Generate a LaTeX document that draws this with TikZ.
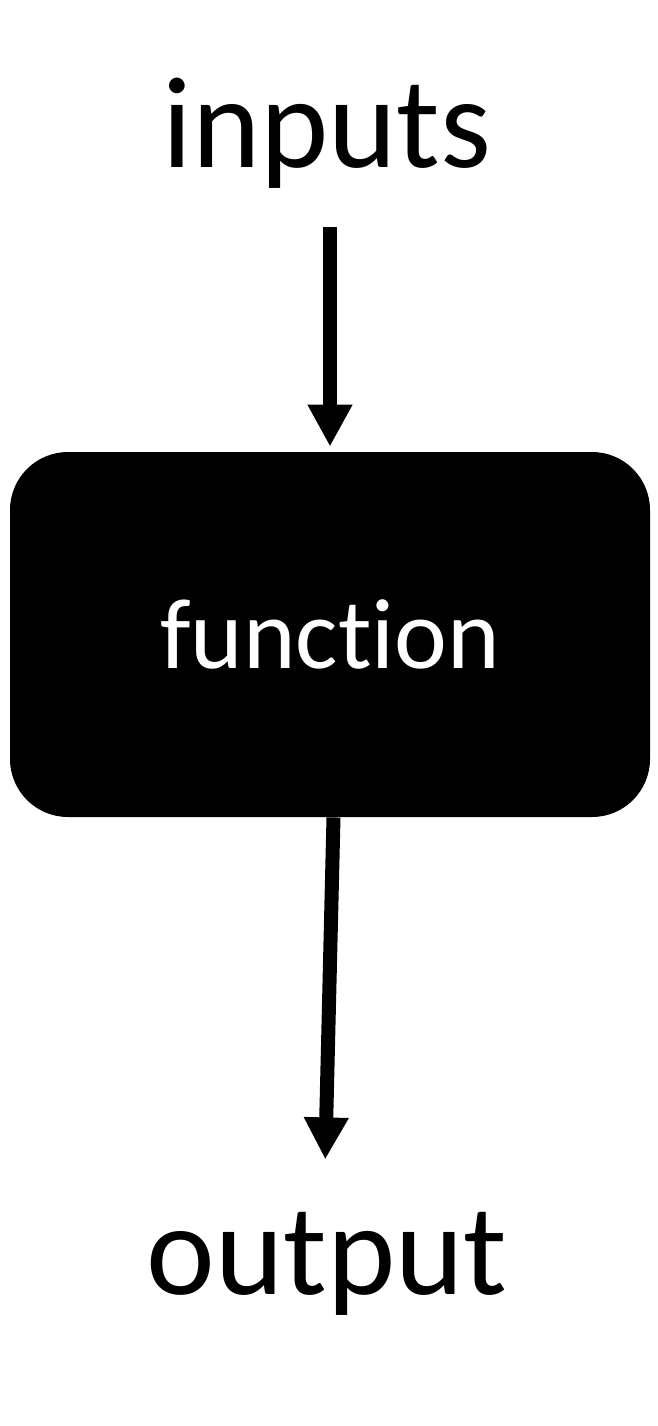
\documentclass[tikz,border=0pt]{standalone}
\usepackage{fontspec}
\setmainfont{Carlito}[Ligatures=NoCommon]
\usetikzlibrary{arrows.meta,positioning}
\tikzset{
  >={Triangle[length=21pt,width=21pt]},
  lbl/.style={font=\fontsize{65}{65}\selectfont, inner sep=0pt, anchor=base},
  fnbox/.style={fill=black, rounded corners=29pt, text=white, align=center,
    font=\fontsize{50}{50}\selectfont, minimum width=320pt, minimum height=182.5pt, inner sep=0pt},
  flow/.style={->, line width=7pt},
}
\begin{document}
\begin{tikzpicture}[x=0.5pt,y=-0.5pt]
  \useasboundingbox (0,0) rectangle (658,1426);
  \node[lbl] (inputs) at (327,167) {inputs};
  \node[fnbox] (func) at (330,634.5) {function};
  \node[lbl] (output) at (327,1294) {output};
  % connectors
  \draw[flow, shorten <=19.5pt, shorten >=2.5pt] (inputs.south -| func.north) -- (func.north);
  \draw[flow, shorten >=26pt] ([xshift=1.75pt]func.south) -- ([xshift=-1.5pt]output.north);
\end{tikzpicture}
\end{document}
